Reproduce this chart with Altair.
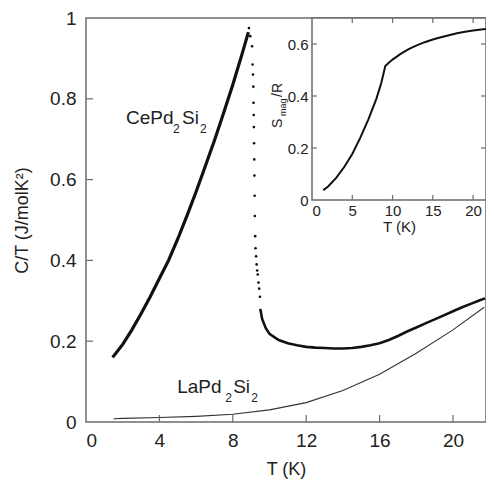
import altair as alt
import pandas as pd

# ---------------- data ----------------
# CePd2Si2, dense low-temperature branch (C/T in J/molK^2)
ce_T = [1.45, 2.0, 2.5, 3.0, 3.5, 4.0, 4.5, 5.0, 5.5, 6.0, 6.5, 7.0, 7.5, 8.0, 8.5, 8.85]
ce_C = [0.160, 0.192, 0.228, 0.268, 0.310, 0.355, 0.400, 0.453, 0.510, 0.570, 0.633, 0.697, 0.765, 0.835, 0.910, 0.965]

# CePd2Si2, sparse points through the transition
drop_T = [8.88, 8.95, 9.05, 9.08, 9.1, 9.12, 9.13, 9.14, 9.15, 9.16, 9.17, 9.18, 9.19, 9.2, 9.22, 9.24, 9.27, 9.3, 9.33, 9.36, 9.4, 9.44, 9.48]
drop_C = [0.975, 0.955, 0.93, 0.885, 0.86, 0.83, 0.79, 0.76, 0.73, 0.69, 0.65, 0.61, 0.56, 0.51, 0.46, 0.43, 0.41, 0.39, 0.375, 0.365, 0.345, 0.33, 0.31]

# CePd2Si2, dense high-temperature branch
tail_T = [9.5, 9.6, 9.8, 10.0, 10.5, 11.0, 11.5, 12.0, 12.5, 13.0, 13.5, 14.0, 14.5, 15.0, 15.5, 16.0, 16.5,
          17.0, 17.5, 18.0, 18.5, 19.0, 19.5, 20.0, 20.5, 21.0, 21.5, 21.75]
tail_C = [0.28, 0.255, 0.232, 0.218, 0.203, 0.195, 0.19, 0.186, 0.184, 0.183, 0.182, 0.182, 0.183, 0.186, 0.19,
          0.195, 0.203, 0.213, 0.224, 0.234, 0.244, 0.254, 0.264, 0.274, 0.284, 0.293, 0.302, 0.306]

# LaPd2Si2
la_T = [1.5, 2.0, 4.0, 6.0, 8.0, 10.0, 12.0, 14.0, 16.0, 18.0, 20.0, 21.7]
la_C = [0.008, 0.009, 0.011, 0.014, 0.019, 0.030, 0.048, 0.078, 0.118, 0.170, 0.228, 0.284]

# inset: S_mag / R
s_T = [1.4, 2.0, 3.0, 4.0, 5.0, 6.0, 7.0, 8.0, 8.6, 9.1, 9.5, 10.0, 11.0, 12.0, 13.0, 14.0, 15.0, 16.0,
       17.0, 18.0, 19.0, 20.0, 21.0, 21.6]
s_S = [0.038, 0.052, 0.085, 0.127, 0.177, 0.240, 0.310, 0.390, 0.450, 0.515, 0.527, 0.540, 0.562, 0.580,
       0.595, 0.607, 0.617, 0.626, 0.634, 0.641, 0.647, 0.652, 0.656, 0.658]

main_xlabels = [0, 4, 8, 12, 16, 20]
main_ylabels = [0, 0.2, 0.4, 0.6, 0.8, 1]
main_xticks = [4, 8, 12, 16, 20]
main_yticks = [0.2, 0.4, 0.6, 0.8]
inset_xlabels = [0, 5, 10, 15, 20]
inset_ylabels = [0, 0.2, 0.4, 0.6]
inset_xticks = [5, 10, 15, 20]
inset_yticks = [0.2, 0.4, 0.6]

# ---------------- styling ----------------
FONT = "Liberation Sans"
INK = "#111111"
FRAME = "#6b6b6b"
W, H = 400, 404
MX = [0, 21.8]
MY = [0, 1]
IX = [0, 21.6]
IY = [0, 0.7]
IXR = [226, 400]   # inset pixel range inside the plot area
IYR = [182, 0]

sx = alt.Scale(domain=MX, nice=False, zero=False)
sy = alt.Scale(domain=MY, nice=False, zero=False)
isx = alt.Scale(domain=IX, range=IXR, nice=False, zero=False)
isy = alt.Scale(domain=IY, range=IYR, nice=False, zero=False)

ax_x = alt.Axis(orient="bottom", values=main_xlabels, format="d", ticks=False, domain=False, grid=False,
                labelFontSize=19, labelPadding=9, labelColor="#222", labelFont=FONT,
                title="T (K)", titleFontSize=18, titleFontWeight="normal", titleColor="#222",
                titleFont=FONT, titlePadding=10)
ax_y = alt.Axis(orient="left", values=main_ylabels, labelExpr="'' + datum.value", ticks=False, domain=False,
                grid=False, labelFontSize=19, labelPadding=10, labelColor="#222", labelFont=FONT,
                title="C/T (J/molK²)", titleFontSize=18, titleFontWeight="normal", titleColor="#222",
                titleFont=FONT, titlePadding=18)
iax_x = alt.Axis(orient="bottom", offset=IYR[0] - H, values=inset_xlabels, format="d", ticks=False,
                 domain=False, grid=False, labelFontSize=15, labelPadding=3, labelColor="#222",
                 labelFont=FONT, title="T (K)", titleFontSize=15, titleFontWeight="normal",
                 titleColor="#222", titleFont=FONT, titlePadding=1)
iax_y = alt.Axis(orient="left", offset=-IXR[0], values=inset_ylabels, labelExpr="'' + datum.value",
                 ticks=False, domain=False, grid=False, labelFontSize=15, labelPadding=4,
                 labelColor="#222", labelFont=FONT, title="")


def X(f, s, a):
    return alt.X(f, scale=s, axis=a)


def Y(f, s, a):
    return alt.Y(f, scale=s, axis=a)


def XD(v, s, a):
    return alt.XDatum(v, type="quantitative", scale=s, axis=a)


def YD(v, s, a):
    return alt.YDatum(v, type="quantitative", scale=s, axis=a)


one = alt.Data(values=[{}])

# ---------------- main panel ----------------
ce = alt.Chart(pd.DataFrame({"T": ce_T, "C": ce_C})).mark_line(color=INK, strokeWidth=3.2).encode(
    x=X("T:Q", sx, ax_x), y=Y("C:Q", sy, ax_y))
drop = alt.Chart(pd.DataFrame({"T": drop_T, "C": drop_C})).mark_circle(color=INK, size=7, opacity=1).encode(
    x=X("T:Q", sx, ax_x), y=Y("C:Q", sy, ax_y))
tail = alt.Chart(pd.DataFrame({"T": tail_T, "C": tail_C})).mark_line(color=INK, strokeWidth=2.6).encode(
    x=X("T:Q", sx, ax_x), y=Y("C:Q", sy, ax_y))
la = alt.Chart(pd.DataFrame({"T": la_T, "C": la_C})).mark_line(color="#333", strokeWidth=1.1).encode(
    x=X("T:Q", sx, ax_x), y=Y("C:Q", sy, ax_y))

mxt = alt.Chart(pd.DataFrame({"t": main_xticks})).mark_tick(
    orient="vertical", size=7, thickness=1.2, yOffset=-3.5, color=FRAME, opacity=1).encode(
    x=X("t:Q", sx, ax_x), y=YD(0, sy, ax_y))
myt = alt.Chart(pd.DataFrame({"t": main_yticks})).mark_tick(
    orient="horizontal", size=7, thickness=1.2, xOffset=3.5, color=FRAME, opacity=1).encode(
    y=Y("t:Q", sy, ax_y), x=XD(0, sx, ax_x))


def label(parts, tx, cy):
    out = []
    for text, dx, dy, size in parts:
        out.append(alt.Chart(one).mark_text(text=text, align="left", baseline="alphabetic", dx=dx, dy=dy,
                                            fontSize=size, font=FONT, color="#222").encode(
            x=XD(tx, sx, ax_x), y=YD(cy, sy, ax_y)))
    return out


ce_label = label([("CePd", 0, 0, 19), ("2", 47, 9, 12), ("Si", 56, 0, 19), ("2", 74, 9, 12)], 2.18, 0.737)
la_label = label([("LaPd", 0, 0, 19), ("2", 48, 9, 12), ("Si", 56, 0, 19), ("2", 74, 9, 12)], 4.97, 0.072)

main = alt.layer(ce, tail, la, drop, mxt, myt, *ce_label, *la_label)

# ---------------- inset ----------------
frame = alt.Chart(one).mark_rect(fill="white", stroke=FRAME, strokeWidth=1.5).encode(
    x=XD(IX[0], isx, iax_x), x2=alt.X2Datum(IX[1]), y=YD(IY[0], isy, iax_y), y2=alt.Y2Datum(IY[1]))
sline = alt.Chart(pd.DataFrame({"T": s_T, "S": s_S})).mark_line(color=INK, strokeWidth=2).encode(
    x=X("T:Q", isx, iax_x), y=Y("S:Q", isy, iax_y))

ixt_df = pd.DataFrame({"t": inset_xticks})
iyt_df = pd.DataFrame({"t": inset_yticks})
ib = alt.Chart(ixt_df).mark_tick(orient="vertical", size=5, thickness=1.2, yOffset=-2.5, color=FRAME,
                                 opacity=1).encode(x=X("t:Q", isx, iax_x), y=YD(IY[0], isy, iax_y))
itop = alt.Chart(ixt_df).mark_tick(orient="vertical", size=5, thickness=1.2, yOffset=2.5, color=FRAME,
                                   opacity=1).encode(x=X("t:Q", isx, iax_x), y=YD(IY[1], isy, iax_y))
il = alt.Chart(iyt_df).mark_tick(orient="horizontal", size=5, thickness=1.2, xOffset=2.5, color=FRAME,
                                 opacity=1).encode(y=Y("t:Q", isy, iax_y), x=XD(IX[0], isx, iax_x))
ir = alt.Chart(iyt_df).mark_tick(orient="horizontal", size=5, thickness=1.2, xOffset=-2.5, color=FRAME,
                                 opacity=1).encode(y=Y("t:Q", isy, iax_y), x=XD(IX[1], isx, iax_x))

ititle = []
for text, dx, dy, size in [("S", 0, 0, 14), ("mag", 12, 4, 9), ("/R", 31, 0, 14)]:
    ititle.append(alt.Chart(one).mark_text(text=text, angle=270, align="left", baseline="alphabetic",
                                           dx=dx, dy=dy, fontSize=size, font=FONT, color="#222").encode(
        x=alt.value(196), y=alt.value(110)))

inset = alt.layer(frame, sline, ib, itop, il, ir, *ititle)

chart = alt.layer(main, inset).resolve_scale(x="independent", y="independent").properties(
    width=W, height=H,
    autosize=alt.AutoSizeParams(type="none"),
    padding={"left": 78, "top": 10, "right": 0, "bottom": 57},
).configure_view(stroke=FRAME, strokeWidth=1.5)

chart.save("out.html", embed_options={"renderer": "svg", "actions": False})
